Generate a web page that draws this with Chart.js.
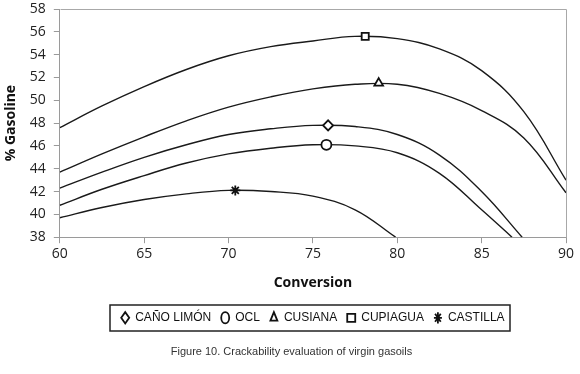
<!DOCTYPE html>
<html>
<head>
<meta charset="utf-8">
<script src="https://cdn.jsdelivr.net/npm/chart.js@4"></script>
<style>
  html, body { margin: 0; padding: 0; background: #fff; }
  #wrap { width: 580px; height: 374px; }
</style>
</head>
<body>
<div id="wrap"><canvas id="chart-1"></canvas></div>
<script>
const seriesNames = ["CAÑO LIMÓN", "OCL", "CUSIANA", "CUPIAGUA", "CASTILLA"];

// measured peak points (markers)
const markerX = [75.9, 75.8, 78.9, 78.1, 70.4];
const markerY = [47.8, 46.1, 51.5, 55.6, 42.1];

// fitted curves
const canoX = [60, 62.5, 65, 67.5, 70, 72.5, 75, 77.5, 80, 82.5, 85, 87.4];
const canoY = [42.3, 43.7, 45.0, 46.1, 47.0, 47.5, 47.8, 47.7, 47.0, 45.2, 42.0, 38.0];
const oclX = [60, 62.5, 65, 67.5, 70, 72.5, 75, 77.5, 80, 82.5, 85, 86.8];
const oclY = [40.8, 42.2, 43.4, 44.5, 45.3, 45.8, 46.1, 46.0, 45.4, 43.6, 40.4, 38.0];
const cusianaX = [60, 62.5, 65, 67.5, 70, 72.5, 75, 77.5, 80, 82.5, 85, 87.5, 90];
const cusianaY = [43.7, 45.3, 46.8, 48.2, 49.4, 50.3, 51.0, 51.4, 51.4, 50.6, 49.1, 46.7, 41.9];
const cupiaguaX = [60, 62.5, 65, 67.5, 70, 72.5, 75, 77.5, 80, 82.5, 85, 87.5, 90];
const cupiaguaY = [47.6, 49.5, 51.2, 52.7, 53.9, 54.7, 55.2, 55.6, 55.4, 54.5, 52.6, 49.0, 43.0];
const castillaX = [60, 62.5, 65, 67.5, 70, 72.5, 75, 77.5, 79.9];
const castillaY = [39.7, 40.6, 41.3, 41.8, 42.1, 42.0, 41.6, 40.4, 38.0];

const curveX = [canoX, oclX, cusianaX, cupiaguaX, castillaX];
const curveY = [canoY, oclY, cusianaY, cupiaguaY, castillaY];

const xTicks = [60, 65, 70, 75, 80, 85, 90];
const yTicks = [38, 40, 42, 44, 46, 48, 50, 52, 54, 56, 58];

const pointStyles = ["rectRot", "circle", "triangle", "rect", "star"];

const toPts = (xs, ys) => xs.map((x, i) => ({ x: x, y: ys[i] }));

const datasets = [];
seriesNames.forEach((name, i) => {
  datasets.push({
    type: "scatter",
    label: name,
    data: [{ x: markerX[i], y: markerY[i] }],
    pointStyle: pointStyles[i],
    pointRadius: 5,
    borderColor: "#111",
    backgroundColor: "#fff",
    borderWidth: 1.8,
    order: 0,
  });
});
seriesNames.forEach((name, i) => {
  datasets.push({
    type: "line",
    label: name + " curve",
    data: toPts(curveX[i], curveY[i]),
    borderColor: "#1a1a1a",
    borderWidth: 1.4,
    pointRadius: 0,
    tension: 0.4,
    fill: false,
    order: 1,
  });
});

const framePlugin = {
  id: "frame",
  afterDraw(chart) {
    const { ctx, chartArea: a, legend } = chart;
    ctx.save();
    ctx.strokeStyle = "#a8a8a8";
    ctx.lineWidth = 1;
    ctx.beginPath();
    ctx.moveTo(Math.round(a.left) + 0.5, Math.round(a.top) + 0.5);
    ctx.lineTo(Math.round(a.right) + 0.5, Math.round(a.top) + 0.5);
    ctx.lineTo(Math.round(a.right) + 0.5, Math.round(a.bottom) + 0.5);
    ctx.stroke();
    const hb = legend.legendHitBoxes;
    if (hb && hb.length) {
      let l = Infinity, r = -Infinity, t = Infinity, b = -Infinity;
      hb.forEach((h) => {
        l = Math.min(l, h.left);
        r = Math.max(r, h.left + h.width);
        t = Math.min(t, h.top);
        b = Math.max(b, h.top + h.height);
      });
      ctx.strokeStyle = "#222";
      ctx.lineWidth = 1.5;
      ctx.strokeRect(Math.round(l - 11), Math.round(t - 7), Math.round(r - l + 17), Math.round(b - t + 14));
    }
    ctx.restore();
  },
};

new Chart(document.getElementById("chart-1"), {
  data: { datasets: datasets },
  plugins: [framePlugin],
  options: {
    responsive: true,
    maintainAspectRatio: false,
    animation: false,
    layout: { padding: { top: 2, right: 0, left: 3, bottom: 4 } },
    scales: {
      x: {
        type: "linear",
        min: 60,
        max: 90,
        afterBuildTicks: (s) => { s.ticks = xTicks.map((v) => ({ value: v })); },
        afterFit: (s) => { s.paddingRight = 14; },
        grid: { drawOnChartArea: false, drawTicks: true, tickLength: 6, color: "#9a9a9a" },
        border: { color: "#9a9a9a" },
        ticks: { color: "#222", font: { family: "Open Sans", size: 14 }, padding: 2 },
        title: { display: true, text: "Conversion", color: "#111", font: { family: "Open Sans", size: 14, weight: "bold" }, padding: { top: 11, bottom: 10 } },
      },
      y: {
        type: "linear",
        min: 38,
        max: 58,
        afterBuildTicks: (s) => { s.ticks = yTicks.map((v) => ({ value: v })); },
        afterFit: (s) => { s.paddingTop = 9; },
        grid: { drawOnChartArea: false, drawTicks: true, tickLength: 6, color: "#9a9a9a" },
        border: { color: "#9a9a9a" },
        ticks: { color: "#222", font: { family: "Open Sans", size: 14 }, padding: 8 },
        title: { display: true, text: "% Gasoline", color: "#111", font: { family: "Open Sans", size: 14, weight: "bold" }, padding: { top: 0, bottom: 2 } },
      },
    },
    plugins: {
      legend: {
        position: "bottom",
        fullSize: false,
        labels: {
          usePointStyle: true,
          pointStyleWidth: 8,
          boxHeight: 8,
          padding: 10,
          color: "#111",
          font: { family: "Liberation Sans", size: 12 },
          filter: (item) => item.datasetIndex < seriesNames.length,
        },
      },
      title: {
        display: true,
        position: "bottom",
        text: "Figure 10. Crackability evaluation of virgin gasoils",
        color: "#333",
        font: { family: "Liberation Sans", size: 11, weight: "normal" },
        padding: { top: 12, bottom: 11 },
      },
      tooltip: { enabled: false },
    },
  },
});
</script>
</body>
</html>
